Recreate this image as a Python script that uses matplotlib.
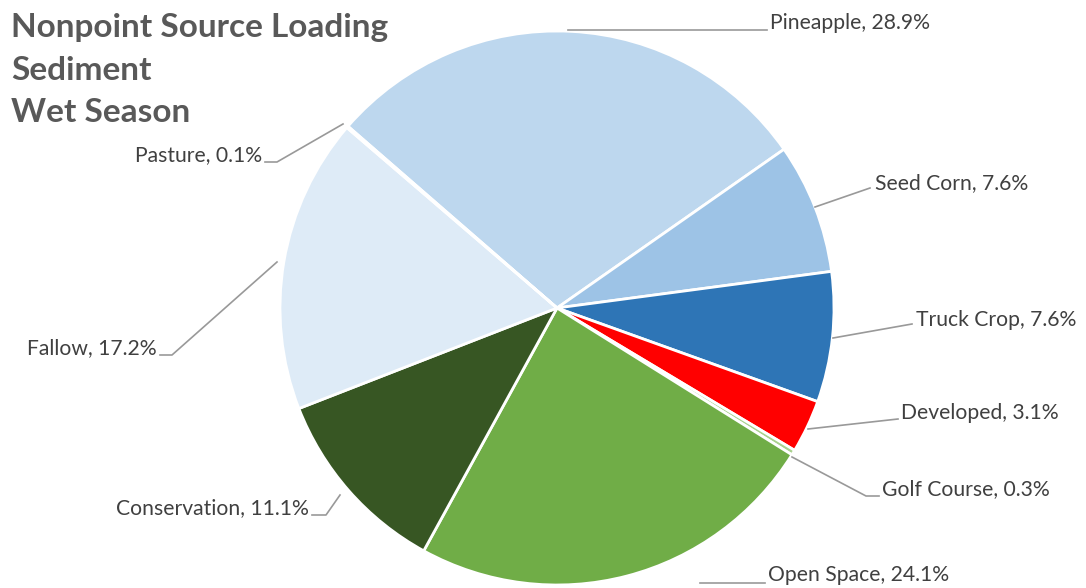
import matplotlib.pyplot as plt

# slice data, clockwise from Pineapple
labels = ["Pineapple", "Seed Corn", "Truck Crop", "Developed", "Golf Course",
          "Open Space", "Conservation", "Fallow", "Pasture"]
shares = [28.9, 7.6, 7.6, 3.1, 0.3, 24.1, 11.1, 17.2, 0.1]
colors = ["#BDD7EE", "#9DC3E6", "#2E75B6", "#FF0000", "#A9D18E",
          "#70AD47", "#375623", "#DEEBF7", "#D0D0D0"]
title_lines = ["Nonpoint Source Loading", "Sediment", "Wet Season"]

# label placement in pixel coords (image y goes down): text anchor, leader line points
label_pos = {
    "Pineapple":    (770, 23, "left",  [(568, 30), (767, 30)]),
    "Seed Corn":    (875, 183, "left", [(815, 207), (870, 188)]),
    "Truck Crop":   (916, 320, "left", [(833, 338), (912, 324)]),
    "Developed":    (901, 413, "left", [(808, 429), (898, 419)]),
    "Golf Course":  (882, 489, "left", [(792, 457), (866, 496), (879, 496)]),
    "Open Space":   (768, 575, "left", [(700, 583), (765, 583)]),
    "Conservation": (309, 508, "right", [(340, 495), (326, 515), (312, 515)]),
    "Fallow":       (157, 348, "right", [(277, 262), (172, 355), (160, 355)]),
    "Pasture":      (262, 155, "right", [(343, 124), (277, 162), (265, 162)]),
}

W, H = 1086, 588
fig = plt.figure(figsize=(W / 100, H / 100), dpi=100)
ax = fig.add_axes([0, 0, 1, 1])

ax.pie(shares, colors=colors, startangle=139, counterclock=False,
       center=(557, H - 308), radius=277, frame=True,
       wedgeprops=dict(edgecolor="white", linewidth=2))
ax.set_xlim(0, W)
ax.set_ylim(0, H)
ax.set_aspect("auto")
ax.axis("off")

for name, val in zip(labels, shares):
    tx, ty, ha, pts = label_pos[name]
    ax.plot([p[0] for p in pts], [H - p[1] for p in pts], color="#999999", lw=1.2)
    ax.text(tx, H - ty, f"{name}, {val}%", ha=ha, va="center",
            fontsize=15.2, color="#404040", family="Lato")

for i, line in enumerate(title_lines):
    ax.text(11, H - (27 + 43 * i), line, ha="left", va="center",
            fontsize=24, fontweight="bold", color="#595959", family="Lato")

fig.savefig("out.png", dpi=100)
